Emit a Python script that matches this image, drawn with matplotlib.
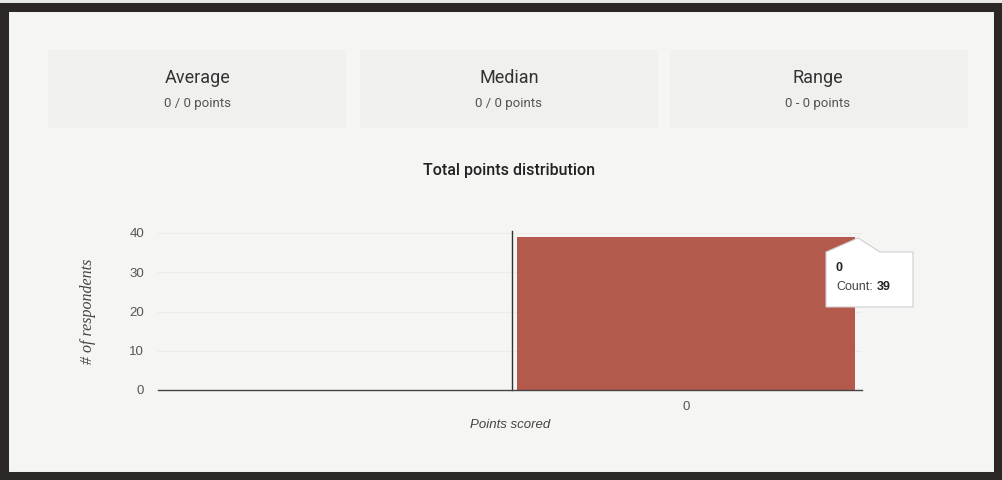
import matplotlib
matplotlib.use("Agg")
import matplotlib.pyplot as plt
from matplotlib.patches import Rectangle, Polygon

# datos del resumen y del histograma
stat_names = ["Average", "Median", "Range"]
stat_values = ["0 / 0 points", "0 / 0 points", "0 - 0 points"]
points = [0]
counts = [39]
y_ticks = [0, 10, 20, 30, 40]

W, H = 1003, 480
fig = plt.figure(figsize=(W / 100, H / 100), dpi=100)
fig.patch.set_facecolor("#e9e9e7")

def px(x, y):
    # pixel -> fraccion de figura
    return x / W, 1 - y / H

# marco oscuro del recorte
fig.patches.append(Rectangle(px(4, 476), 994 / W, 469 / H, transform=fig.transFigure,
                             facecolor="#f5f5f3", edgecolor="#2b2727", linewidth=6.5, zorder=-2))

# bandas de las estadisticas
for i, x0 in enumerate([48, 360, 670]):
    fig.patches.append(Rectangle(px(x0, 128), 298 / W, 78 / H, transform=fig.transFigure,
                                 facecolor="#f0f0ee", edgecolor="none", zorder=-1))

centers = [198, 509, 818]
for i in range(len(stat_names)):
    fig.text(*px(centers[i], 78), stat_names[i], ha="center", va="center",
             fontsize=13, family="Roboto", color="#333333")
    fig.text(*px(centers[i], 103), stat_values[i], ha="center", va="center",
             fontsize=9.5, family="Roboto", color="#555555")

fig.text(*px(509, 171), "Total points distribution", ha="center", va="center",
         fontsize=11.5, family="Roboto", fontweight="medium", color="#222222")

# ejes del histograma
l, b = px(158, 390)
r, t = px(862, 233)
ax = fig.add_axes([l, b, r - l, t - b])
ax.set_facecolor("none")
ax.set_xlim(-1.562, 0.52)
ax.set_ylim(0, 40)
ax.bar(points, counts, width=1.0, color="#b45a4c", zorder=2)
ax.axvline(-0.515, ymax=1.01, color="#333333", linewidth=1.0, zorder=3, clip_on=False)
ax.axhline(0, color="#444444", linewidth=1.0, zorder=3, clip_on=False)
for yv in y_ticks[1:]:
    ax.axhline(yv, color="#ebebe9", linewidth=0.8, zorder=1)

for s in ax.spines.values():
    s.set_visible(False)
ax.set_yticks(y_ticks)
ax.set_yticklabels([str(v) for v in y_ticks], family="Liberation Sans", fontsize=9.5, color="#555555")
ax.set_xticks(points)
ax.set_xticklabels([str(p) for p in points], family="Liberation Sans", fontsize=9.5, color="#555555")
ax.tick_params(length=0, pad=10)
ax.tick_params(axis="x", pad=8)

fig.text(*px(88, 311), "# of respondents", rotation=90, ha="center", va="center",
         fontsize=11.5, family="Liberation Serif", style="italic", color="#444444")
fig.text(*px(510, 425), "Points scored", ha="center", va="center",
         fontsize=9.5, family="Liberation Sans", style="italic", color="#444444")

# tooltip
fig.patches.append(Polygon([px(826, 252), px(858, 238), px(880, 252), px(913, 252), px(913, 307), px(826, 307)],
                           closed=True, transform=fig.transFigure, facecolor="white",
                           edgecolor="#cfcfcf", linewidth=0.8, zorder=5))
fig.text(*px(836, 268), str(points[0]), ha="left", va="center", fontsize=9,
         family="Liberation Sans", fontweight="bold", color="#222222", zorder=6)
t1 = fig.text(*px(836, 287), "Count:", ha="left", va="center", fontsize=9,
              family="Liberation Sans", color="#444444", zorder=6)
fig.add_artist(plt.Annotation(str(counts[0]), xy=(1, 0.5), xycoords=t1, xytext=(3, 0),
                              textcoords="offset points", ha="left", va="center", fontsize=9,
                              family="Liberation Sans", fontweight="bold", color="#222222", zorder=6))

fig.savefig("out.png", dpi=100, facecolor=fig.get_facecolor())
